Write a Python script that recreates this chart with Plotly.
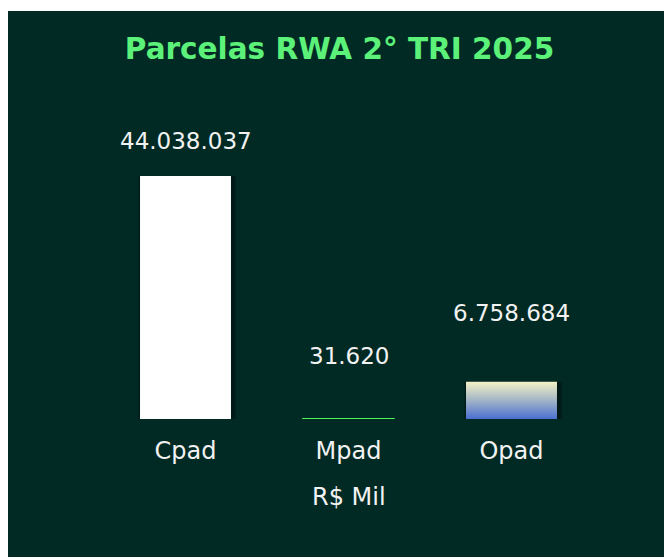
import plotly.graph_objects as go

categories = ["Cpad", "Mpad", "Opad"]
values = [44038037, 31620, 6758684]
value_labels = ["44.038.037", "31.620", "6.758.684"]
title_text = "Parcelas RWA 2° TRI 2025"
unit_text = "R$ Mil"

W, H = 672, 557
L, R, T, B = 96, 87, 100, 146
PW, PH = W - L - R, H - T - B
BG = "#022a24"
TXT = "#f2f2f2"
FONT = "DejaVu Sans"
BW = 0.558

def px_to_paper_x(px):
    return (px - L) / PW

def px_to_paper_y(py):
    return 1 - (py - T) / PH

ymax = values[0] * PH / 243.0

fig = go.Figure()

# shadow layers
for dw, op in [(0.05, 0.10), (0.035, 0.14), (0.02, 0.18)]:
    fig.add_trace(go.Bar(
        x=[categories[0], categories[2]], y=[values[0], values[2]],
        width=BW + dw, offset=-(BW + dw) / 2 + 0.01,
        marker=dict(color=f"rgba(0,0,0,{op})", line=dict(width=0)),
        hoverinfo="skip", showlegend=False))

fig.add_trace(go.Bar(
    x=categories, y=values, width=BW,
    marker=dict(color=["#ffffff", "#4cf55a", "rgba(0,0,0,0)"],
                line=dict(color=["#ffffff", "#4cf55a", "rgba(0,0,0,0)"], width=[0, 1.6, 0])),
    hoverinfo="skip", showlegend=False))

# gradient bar for Opad
i = categories.index("Opad")
hw = BW / 2
fig.add_trace(go.Scatter(
    x=[i - hw, i + hw, i + hw, i - hw, i - hw],
    y=[0, 0, values[i], values[i], 0],
    xaxis="x2", mode="lines", line=dict(width=0),
    fill="toself",
    fillgradient=dict(type="vertical", start=0, stop=values[i],
                      colorscale=[[0, "#4a6fd2"], [0.5, "#a2b4c6"], [1, "#f4f2c6"]]),
    hoverinfo="skip", showlegend=False))

shifts = [35, 63, 69]
for c, v, lab, s in zip(categories, values, value_labels, shifts):
    fig.add_annotation(x=c, y=v, text=lab, showarrow=False, yanchor="middle",
                       yshift=s, font=dict(family=FONT, size=23, color=TXT))

fig.add_annotation(xref="paper", yref="paper", x=px_to_paper_x(340.5), y=px_to_paper_y(489),
                   text=unit_text, showarrow=False, yanchor="middle", xanchor="center",
                   font=dict(family=FONT, size=24, color=TXT))

fig.add_shape(type="rect", xref="paper", yref="paper", layer="below",
              x0=px_to_paper_x(-1), x1=px_to_paper_x(W + 5),
              y0=px_to_paper_y(H + 5), y1=px_to_paper_y(3),
              fillcolor=BG, line=dict(width=0))

fig.update_layout(
    width=W, height=H,
    margin=dict(l=L, r=R, t=T, b=B),
    paper_bgcolor="#ffffff", plot_bgcolor="rgba(0,0,0,0)",
    barmode="overlay",
    title=dict(text=title_text, x=331.5 / W, xanchor="center", xref="container",
               y=1 - 41 / H, yanchor="middle", yref="container",
               font=dict(family=FONT, size=29.5, color="#5cf27a", weight="bold")),
    xaxis=dict(type="category", categoryorder="array", categoryarray=categories,
               range=[-0.5, 2.5], showgrid=False, zeroline=False,
               showline=False, ticks="outside", ticklen=10, tickcolor="rgba(0,0,0,0)",
               tickfont=dict(family=FONT, size=24, color=TXT)),
    xaxis2=dict(range=[-0.5, 2.5], overlaying="x", visible=False),
    yaxis=dict(range=[0, ymax], visible=False, showgrid=False),
)

fig.write_html("out.html")
